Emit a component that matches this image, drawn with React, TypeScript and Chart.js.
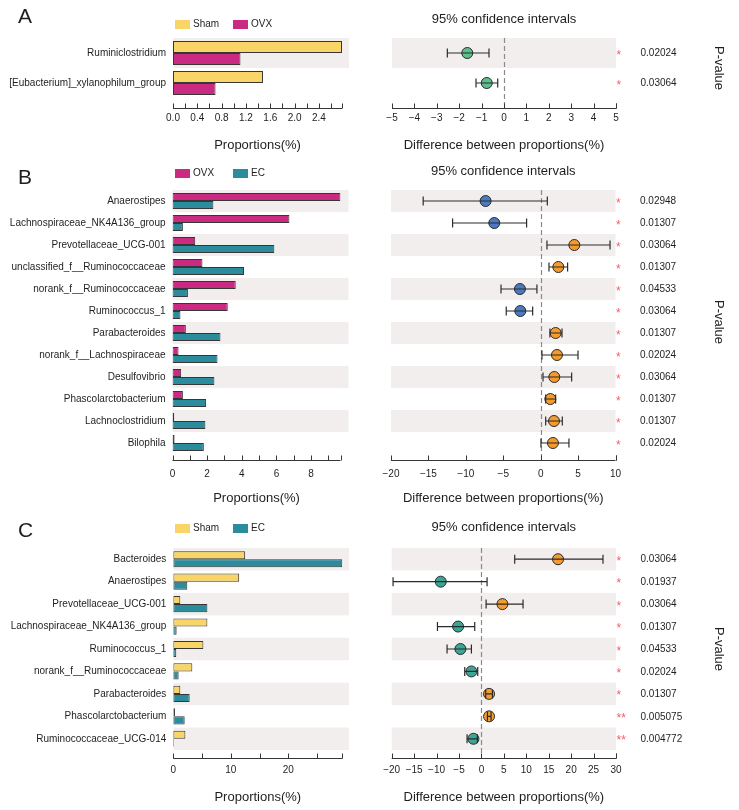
import React, { useEffect, useRef } from "react";
import { Chart, registerables } from "chart.js";

Chart.register(...registerables);

const FONT = '"Liberation Sans", Arial, Helvetica, sans-serif';

// ---------- Panel A : Sham vs OVX ----------
const A_GROUPS = ["Sham", "OVX"];
const A_TAXA = ["Ruminiclostridium", "[Eubacterium]_xylanophilum_group"];
const A_G1 = [2.78, 1.48];
const A_G2 = [1.11, 0.7];
const A_DIFF = [-1.64, -0.77];
const A_LOW = [-2.53, -1.25];
const A_HIGH = [-0.67, -0.28];
const A_PVAL = ["0.02024", "0.03064"];
const A_SIG = ["*", "*"];
const A_PROP_TICKS = [0, 0.2, 0.4, 0.6, 0.8, 1.0, 1.2, 1.4, 1.6, 1.8, 2.0, 2.2, 2.4, 2.6];
const A_PROP_LABELS = ["0.0", "0.4", "0.8", "1.2", "1.6", "2.0", "2.4"];
const A_DIFF_TICKS = [-5, -4, -3, -2, -1, 0, 1, 2, 3, 4, 5];
const A_DIFF_LABELS = ["\u22125", "\u22124", "\u22123", "\u22122", "\u22121", "0", "1", "2", "3", "4", "5"];

// ---------- Panel B : OVX vs EC ----------
const B_GROUPS = ["OVX", "EC"];
const B_TAXA = [
  "Anaerostipes",
  "Lachnospiraceae_NK4A136_group",
  "Prevotellaceae_UCG-001",
  "unclassified_f__Ruminococcaceae",
  "norank_f__Ruminococcaceae",
  "Ruminococcus_1",
  "Parabacteroides",
  "norank_f__Lachnospiraceae",
  "Desulfovibrio",
  "Phascolarctobacterium",
  "Lachnoclostridium",
  "Bilophila",
];
const B_G1 = [9.7, 6.75, 1.31, 1.73, 3.65, 3.19, 0.77, 0.35, 0.5, 0.6, 0.1, 0.12];
const B_G2 = [2.36, 0.6, 5.88, 4.13, 0.89, 0.46, 2.77, 2.6, 2.42, 1.94, 1.9, 1.81];
const B_DIFF = [-7.36, -6.2, 4.5, 2.36, -2.77, -2.72, 2.0, 2.18, 1.82, 1.29, 1.78, 1.64];
const B_LOW = [-15.7, -11.77, 0.84, 1.11, -5.3, -4.6, 1.24, 0.17, 0.31, 0.67, 0.67, 0.04];
const B_HIGH = [0.89, -1.88, 9.27, 3.6, -0.5, -1.07, 2.85, 4.99, 4.14, 2.0, 2.89, 3.78];
const B_PVAL = ["0.02948", "0.01307", "0.03064", "0.01307", "0.04533", "0.03064", "0.01307", "0.02024", "0.03064", "0.01307", "0.01307", "0.02024"];
const B_SIG = ["*", "*", "*", "*", "*", "*", "*", "*", "*", "*", "*", "*"];
const B_PROP_TICKS = [0, 1, 2, 3, 4, 5, 6, 7, 8, 9];
const B_PROP_LABELS = ["0", "2", "4", "6", "8"];
const B_DIFF_TICKS = [-20, -15, -10, -5, 0, 5, 10];
const B_DIFF_LABELS = ["\u221220", "\u221215", "\u221210", "\u22125", "0", "5", "10"];

// ---------- Panel C : Sham vs EC ----------
const C_GROUPS = ["Sham", "EC"];
const C_TAXA = [
  "Bacteroides",
  "Anaerostipes",
  "Prevotellaceae_UCG-001",
  "Lachnospiraceae_NK4A136_group",
  "Ruminococcus_1",
  "norank_f__Ruminococcaceae",
  "Parabacteroides",
  "Phascolarctobacterium",
  "Ruminococcaceae_UCG-014",
];
const C_G1 = [12.5, 11.46, 1.22, 5.93, 5.23, 3.31, 1.22, 0.29, 2.1];
const C_G2 = [29.4, 2.44, 5.93, 0.58, 0.52, 0.93, 2.85, 1.98, 0.12];
const C_DIFF = [17.08, -9.07, 4.68, -5.2, -4.68, -2.23, 1.7, 1.7, -1.78];
const C_LOW = [7.42, -19.7, 1.04, -9.8, -7.66, -3.72, 0.96, 1.34, -3.2];
const C_HIGH = [27.1, 1.26, 9.28, -1.49, -2.23, -0.82, 2.45, 2.15, -0.9];
const C_PVAL = ["0.03064", "0.01937", "0.03064", "0.01307", "0.04533", "0.02024", "0.01307", "0.005075", "0.004772"];
const C_SIG = ["*", "*", "*", "*", "*", "*", "*", "**", "**"];
const C_PROP_TICKS = [0, 5, 10, 15, 20, 25];
const C_PROP_LABELS = ["0", "10", "20"];
const C_DIFF_TICKS = [-20, -15, -10, -5, 0, 5, 10, 15, 20, 25, 30];
const C_DIFF_LABELS = ["\u221220", "\u221215", "\u221210", "\u22125", "0", "5", "10", "15", "20", "25", "30"];

// ---------- styles ----------
const COL_SHAM = "#F9D466";
const COL_OVX = "#CB2A83";
const COL_EC = "#2B8C9E";
const BAND = "#F2EEEE";
const TEXT = "#1e1e1e";
const EDGE = "#363636";
const STAR = "#F0626C";

type Panel = {
  letter: string;
  groups: string[];
  colors: string[];
  taxa: string[];
  g1: number[];
  g2: number[];
  diff: number[];
  low: number[];
  high: number[];
  pval: string[];
  sig: string[];
  propTicks: number[];
  propLabels: string[];
  propDec: number;
  diffMin: number;
  diffMax: number;
  diffTicks: number[];
  diffLabels: string[];
  negColor: string;
  posColor: string;
  // layout
  top: number;
  height: number;
  plotTop: number;
  plotBottom: number;
  barLeft: number;
  barRight: number;
  bandRight: number;
  ciLeft: number;
  ciRight: number;
  axisGap: number;
  labelY: number;
  xTitleY: number;
  ciTitleY: number;
  catPct: number;
  letterTop: number;
  legendTop: number;
  pointR: number;
};

const PANELS: Panel[] = [
  {
    letter: "A", groups: A_GROUPS, colors: [COL_SHAM, COL_OVX], taxa: A_TAXA,
    g1: A_G1, g2: A_G2, diff: A_DIFF, low: A_LOW, high: A_HIGH, pval: A_PVAL, sig: A_SIG,
    propTicks: A_PROP_TICKS, propLabels: A_PROP_LABELS, propDec: 1,
    diffMin: -5, diffMax: 5, diffTicks: A_DIFF_TICKS, diffLabels: A_DIFF_LABELS,
    negColor: "#5EBE8C", posColor: "#5EBE8C",
    top: 0, height: 160, plotTop: 38, plotBottom: 98, barLeft: 173, barRight: 342, bandRight: 349,
    ciLeft: 392, ciRight: 616, axisGap: 10, labelY: 118, xTitleY: 145.5, ciTitleY: 19,
    catPct: 0.8, letterTop: 5, legendTop: 19.5, pointR: 5.5,
  },
  {
    letter: "B", groups: B_GROUPS, colors: [COL_OVX, COL_EC], taxa: B_TAXA,
    g1: B_G1, g2: B_G2, diff: B_DIFF, low: B_LOW, high: B_HIGH, pval: B_PVAL, sig: B_SIG,
    propTicks: B_PROP_TICKS, propLabels: B_PROP_LABELS, propDec: 0,
    diffMin: -20, diffMax: 10, diffTicks: B_DIFF_TICKS, diffLabels: B_DIFF_LABELS,
    negColor: "#4A7AC0", posColor: "#F59B2D",
    top: 160, height: 350, plotTop: 190, plotBottom: 454, barLeft: 172.5, barRight: 340.5, bandRight: 348.5,
    ciLeft: 391, ciRight: 615.5, axisGap: 5.5, labelY: 474, xTitleY: 498.5, ciTitleY: 171,
    catPct: 0.72, letterTop: 165.5, legendTop: 168.5, pointR: 5.5,
  },
  {
    letter: "C", groups: C_GROUPS, colors: [COL_SHAM, COL_EC], taxa: C_TAXA,
    g1: C_G1, g2: C_G2, diff: C_DIFF, low: C_LOW, high: C_HIGH, pval: C_PVAL, sig: C_SIG,
    propTicks: C_PROP_TICKS, propLabels: C_PROP_LABELS, propDec: 0,
    diffMin: -20, diffMax: 30, diffTicks: C_DIFF_TICKS, diffLabels: C_DIFF_LABELS,
    negColor: "#3AA696", posColor: "#F59B2D",
    top: 510, height: 300, plotTop: 548, plotBottom: 750, barLeft: 173.3, barRight: 342.3, bandRight: 349,
    ciLeft: 391.7, ciRight: 616, axisGap: 7.5, labelY: 770, xTitleY: 797, ciTitleY: 527.5,
    catPct: 0.72, letterTop: 519, legendTop: 523.5, pointR: 5.5,
  },
];

const BAR_W = 360;
const CI_W = 739 - BAR_W;

function drawBands(chart: any, n: number, left: number, right: number) {
  const { ctx } = chart;
  const y = chart.scales.y;
  ctx.save();
  ctx.fillStyle = BAND;
  for (let i = 0; i < n; i += 2) {
    const t = y.getPixelForValue(i - 0.5);
    const b = y.getPixelForValue(i + 0.5);
    ctx.fillRect(left, t, right - left, b - t);
  }
  ctx.restore();
}

function drawAxis(chart: any, gap: number) {
  const { ctx, chartArea } = chart;
  const x = chart.scales.x;
  const y0 = Math.round(chartArea.bottom + gap) + 0.5;
  ctx.save();
  ctx.strokeStyle = EDGE;
  ctx.lineWidth = 1;
  ctx.beginPath();
  ctx.moveTo(chartArea.left, y0);
  ctx.lineTo(chartArea.right, y0);
  const xs = x.ticks.map((t: any) => x.getPixelForValue(t.value));
  xs.push(chartArea.right);
  xs.forEach((px: number) => {
    const p = Math.round(px) + 0.5;
    ctx.moveTo(p, y0);
    ctx.lineTo(p, y0 - 5);
  });
  ctx.stroke();
  ctx.restore();
}

function makeBar(canvas: HTMLCanvasElement, p: Panel) {
  const propMax = Math.max(...p.g1, ...p.g2);
  const xh = p.xTitleY + 7.8 - p.plotBottom;
  const padBottom = p.top + p.height - (p.plotBottom + xh);
  const ds = (label: string, data: number[], color: string) => ({
    label,
    data,
    backgroundColor: color,
    borderColor: EDGE,
    borderWidth: 1,
    borderSkipped: false,
    barPercentage: 1,
    categoryPercentage: p.catPct,
  });
  return new Chart(canvas, {
    type: "bar",
    data: {
      labels: p.taxa,
      datasets: [ds(p.groups[0], p.g1, p.colors[0]), ds(p.groups[1], p.g2, p.colors[1])] as any,
    },
    options: {
      indexAxis: "y",
      responsive: false,
      animation: false,
      events: [],
      layout: {
        padding: { left: 0, right: BAR_W - p.barRight, top: p.plotTop - p.top, bottom: padBottom },
      },
      plugins: { legend: { display: false }, tooltip: { enabled: false } },
      scales: {
        x: {
          type: "linear",
          position: "bottom",
          min: 0,
          max: propMax,
          afterBuildTicks: (s: any) => {
            s.ticks = p.propTicks.map((v) => ({ value: v }));
          },
          afterFit: (s: any) => {
            s.height = xh;
          },
          grid: { display: false, drawTicks: false },
          border: { display: false },
          ticks: {
            autoSkip: false,
            maxRotation: 0,
            padding: p.labelY - p.plotBottom - 6,
            font: { size: 10, family: FONT },
            color: TEXT,
            callback: (v: any) => {
              const s = Number(v).toFixed(p.propDec);
              return p.propLabels.includes(s) ? s : "";
            },
          },
          title: {
            display: true,
            text: "Proportions(%)",
            font: { size: 13, family: FONT },
            color: TEXT,
            padding: 0,
          },
        },
        y: {
          type: "category",
          position: "left",
          offset: true,
          afterFit: (s: any) => {
            s.width = p.barLeft;
          },
          grid: { display: false, drawTicks: false },
          border: { display: false },
          ticks: { autoSkip: false, padding: 7, font: { size: 10, family: FONT }, color: TEXT },
        },
      },
    } as any,
    plugins: [
      {
        id: "barDeco" + p.letter,
        beforeDatasetsDraw(chart: any) {
          drawBands(chart, p.taxa.length, chart.chartArea.left, p.bandRight);
        },
        afterDraw(chart: any) {
          drawAxis(chart, p.axisGap);
        },
      },
    ],
  });
}

function makeCi(canvas: HTMLCanvasElement, p: Panel) {
  const xh = p.xTitleY + 7.8 - p.plotBottom;
  const padBottom = p.top + p.height - (p.plotBottom + xh);
  return new Chart(canvas, {
    type: "scatter",
    data: {
      labels: p.taxa,
      datasets: [
        {
          data: p.diff.map((d, i) => ({ x: d, y: p.taxa[i] })),
          pointRadius: p.pointR,
          pointHoverRadius: p.pointR,
          pointBackgroundColor: p.diff.map((d) => (d < 0 ? p.negColor : p.posColor)),
          pointBorderColor: "#2b2b2b",
          pointBorderWidth: 1,
        },
      ] as any,
    },
    options: {
      responsive: false,
      animation: false,
      events: [],
      layout: {
        padding: {
          left: p.ciLeft - BAR_W,
          right: 739 - p.ciRight,
          top: p.plotTop - p.top,
          bottom: padBottom,
        },
      },
      plugins: { legend: { display: false }, tooltip: { enabled: false } },
      scales: {
        x: {
          type: "linear",
          position: "bottom",
          min: p.diffMin,
          max: p.diffMax,
          afterBuildTicks: (s: any) => {
            s.ticks = p.diffTicks.map((v) => ({ value: v }));
          },
          afterFit: (s: any) => {
            s.height = xh;
          },
          grid: { display: false, drawTicks: false },
          border: { display: false },
          ticks: {
            autoSkip: false,
            maxRotation: 0,
            padding: p.labelY - p.plotBottom - 6,
            font: { size: 10, family: FONT },
            color: TEXT,
            callback: (v: any) => {
              const n = Number(v);
              const s = n < 0 ? "\u2212" + Math.abs(n) : String(n);
              return p.diffLabels.includes(s) ? s : "";
            },
          },
          title: {
            display: true,
            text: "Difference between proportions(%)",
            font: { size: 13, family: FONT },
            color: TEXT,
            padding: 0,
          },
        },
        y: { type: "category", offset: true, display: false },
      },
    } as any,
    plugins: [
      {
        id: "ciDeco" + p.letter,
        beforeDatasetsDraw(chart: any) {
          const { ctx, chartArea } = chart;
          drawBands(chart, p.taxa.length, chartArea.left, chartArea.right);
          const x0 = Math.round(chart.scales.x.getPixelForValue(0)) + 0.5;
          ctx.save();
          ctx.strokeStyle = "#8a8a8a";
          ctx.lineWidth = 1.2;
          ctx.setLineDash([5, 3]);
          ctx.beginPath();
          ctx.moveTo(x0, chartArea.top);
          ctx.lineTo(x0, chartArea.bottom + p.axisGap - 3);
          ctx.stroke();
          ctx.restore();
        },
        afterDatasetsDraw(chart: any) {
          const { ctx } = chart;
          const x = chart.scales.x;
          const y = chart.scales.y;
          ctx.save();
          ctx.strokeStyle = "#2b2b2b";
          ctx.lineWidth = 1.2;
          ctx.beginPath();
          p.taxa.forEach((_, i) => {
            const cy = y.getPixelForValue(i);
            const x1 = x.getPixelForValue(p.low[i]);
            const x2 = x.getPixelForValue(p.high[i]);
            ctx.moveTo(x1, cy);
            ctx.lineTo(x2, cy);
            ctx.moveTo(x1, cy - 4.5);
            ctx.lineTo(x1, cy + 4.5);
            ctx.moveTo(x2, cy - 4.5);
            ctx.lineTo(x2, cy + 4.5);
          });
          ctx.stroke();
          ctx.restore();
        },
        afterDraw(chart: any) {
          const { ctx, chartArea } = chart;
          const y = chart.scales.y;
          drawAxis(chart, p.axisGap);
          ctx.save();
          p.taxa.forEach((_, i) => {
            const cy = y.getPixelForValue(i);
            ctx.fillStyle = STAR;
            ctx.font = `12px ${FONT}`;
            ctx.textAlign = "left";
            ctx.textBaseline = "alphabetic";
            ctx.fillText(p.sig[i], chartArea.right + 0.5, cy + 5.5);
            ctx.fillStyle = TEXT;
            ctx.font = `10px ${FONT}`;
            ctx.textBaseline = "middle";
            ctx.fillText(p.pval[i], chartArea.right + 24.5, cy + 0.5);
          });
          // confidence interval title
          ctx.fillStyle = TEXT;
          ctx.font = `13px ${FONT}`;
          ctx.textAlign = "center";
          ctx.textBaseline = "middle";
          ctx.fillText("95% confidence intervals", (chartArea.left + chartArea.right) / 2, p.ciTitleY - p.top);
          // P-value label, rotated
          ctx.translate(chartArea.right + 103, (chartArea.top + chartArea.bottom) / 2);
          ctx.rotate(Math.PI / 2);
          ctx.fillText("P-value", 0, 0);
          ctx.restore();
        },
      },
    ],
  });
}

export default function App() {
  const refs = useRef<(HTMLCanvasElement | null)[]>([]);

  useEffect(() => {
    const charts: Chart[] = [];
    PANELS.forEach((p, i) => {
      const b = refs.current[2 * i];
      const c = refs.current[2 * i + 1];
      if (b) charts.push(makeBar(b, p));
      if (c) charts.push(makeCi(c, p));
    });
    return () => charts.forEach((ch) => ch.destroy());
  }, []);

  return (
    <div
      style={{
        position: "absolute",
        left: 0,
        top: 0,
        width: 739,
        height: 810,
        background: "#ffffff",
        fontFamily: FONT,
        color: TEXT,
        overflow: "hidden",
      }}
    >
      {PANELS.map((p, i) => (
        <React.Fragment key={p.letter}>
          <canvas
            ref={(el) => {
              refs.current[2 * i] = el;
            }}
            width={BAR_W}
            height={p.height}
            style={{ position: "absolute", left: 0, top: p.top, width: BAR_W, height: p.height }}
          />
          <canvas
            ref={(el) => {
              refs.current[2 * i + 1] = el;
            }}
            width={CI_W}
            height={p.height}
            style={{ position: "absolute", left: BAR_W, top: p.top, width: CI_W, height: p.height }}
          />
          <div
            style={{
              position: "absolute",
              left: 18,
              top: p.letterTop,
              fontSize: 21,
              lineHeight: "21px",
            }}
          >
            {p.letter}
          </div>
          {p.groups.map((g, k) => (
            <React.Fragment key={g}>
              <div
                style={{
                  position: "absolute",
                  left: 175 + k * 58,
                  top: p.legendTop,
                  width: 15,
                  height: 9.5,
                  background: p.colors[k],
                }}
              />
              <div
                style={{
                  position: "absolute",
                  left: 193 + k * 58,
                  top: p.legendTop + 4.75 - 5,
                  fontSize: 10,
                  lineHeight: "10px",
                  whiteSpace: "nowrap",
                }}
              >
                {g}
              </div>
            </React.Fragment>
          ))}
        </React.Fragment>
      ))}
    </div>
  );
}
